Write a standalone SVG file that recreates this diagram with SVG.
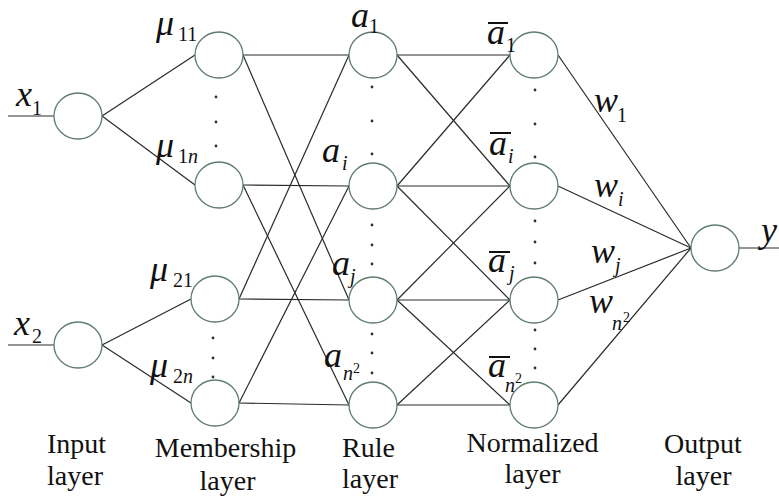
<svg xmlns="http://www.w3.org/2000/svg" width="779" height="497" viewBox="0 0 779 497">
<style>
  .node { fill: #ffffff; stroke: #5f7d6c; stroke-width: 1.3; }
  .edge { stroke: #2a2a2a; stroke-width: 1.2; fill: none; }
  .dot { fill: #24382e; }
  text { font-family: 'Liberation Serif', 'DejaVu Serif', serif; fill: #111; }
  .m { font-style: italic; font-size: 36px; }
  .s { font-style: normal; font-size: 20px; }
  .si { font-style: italic; font-size: 20px; }
  .sup { font-style: normal; font-size: 14px; }
  .bar { stroke: #111; stroke-width: 2; }
  .lab { font-size: 28px; }
</style>
<rect width="779" height="497" fill="#ffffff"/>
<g id="connectors">
  <line class="edge" x1="8" y1="116" x2="54" y2="116"/>
  <line class="edge" x1="8" y1="345" x2="54" y2="345"/>
  <line class="edge" x1="739" y1="248" x2="779" y2="248"/>
  <line class="edge" x1="102" y1="116" x2="195" y2="55"/>
  <line class="edge" x1="102" y1="116" x2="195" y2="185"/>
  <line class="edge" x1="102" y1="345" x2="191" y2="299"/>
  <line class="edge" x1="102" y1="345" x2="191" y2="403"/>
  <line class="edge" x1="243" y1="55" x2="349" y2="55"/>
  <line class="edge" x1="243" y1="55" x2="349" y2="300"/>
  <line class="edge" x1="243" y1="185" x2="349" y2="186"/>
  <line class="edge" x1="243" y1="185" x2="349" y2="405"/>
  <line class="edge" x1="239" y1="299" x2="349" y2="55"/>
  <line class="edge" x1="239" y1="299" x2="349" y2="300"/>
  <line class="edge" x1="239" y1="403" x2="349" y2="186"/>
  <line class="edge" x1="239" y1="403" x2="349" y2="405"/>
  <line class="edge" x1="397" y1="55" x2="510" y2="55"/>
  <line class="edge" x1="397" y1="55" x2="510" y2="186"/>
  <line class="edge" x1="397" y1="186" x2="510" y2="55"/>
  <line class="edge" x1="397" y1="186" x2="510" y2="186"/>
  <line class="edge" x1="397" y1="186" x2="510" y2="300"/>
  <line class="edge" x1="397" y1="300" x2="510" y2="186"/>
  <line class="edge" x1="397" y1="300" x2="510" y2="300"/>
  <line class="edge" x1="397" y1="300" x2="510" y2="405"/>
  <line class="edge" x1="397" y1="405" x2="510" y2="300"/>
  <line class="edge" x1="397" y1="405" x2="510" y2="405"/>
  <line class="edge" x1="558" y1="55" x2="691" y2="248"/>
  <line class="edge" x1="558" y1="186" x2="691" y2="248"/>
  <line class="edge" x1="558" y1="300" x2="691" y2="248"/>
  <line class="edge" x1="558" y1="405" x2="691" y2="248"/>
</g>
<g id="dots">
  <circle class="dot" cx="216" cy="97" r="1.4"/><circle class="dot" cx="216" cy="122" r="1.4"/><circle class="dot" cx="216" cy="146" r="1.4"/>
  <circle class="dot" cx="213" cy="338" r="1.4"/><circle class="dot" cx="213" cy="358" r="1.4"/><circle class="dot" cx="213" cy="377" r="1.4"/>
  <circle class="dot" cx="372" cy="87" r="1.4"/><circle class="dot" cx="372" cy="121" r="1.4"/><circle class="dot" cx="372" cy="154" r="1.4"/>
  <circle class="dot" cx="372" cy="225" r="1.4"/><circle class="dot" cx="372" cy="245" r="1.4"/><circle class="dot" cx="372" cy="264" r="1.4"/>
  <circle class="dot" cx="372" cy="334" r="1.4"/><circle class="dot" cx="372" cy="353" r="1.4"/><circle class="dot" cx="372" cy="373" r="1.4"/>
  <circle class="dot" cx="535" cy="90" r="1.4"/><circle class="dot" cx="535" cy="124" r="1.4"/><circle class="dot" cx="535" cy="157" r="1.4"/>
  <circle class="dot" cx="535" cy="221" r="1.4"/><circle class="dot" cx="535" cy="242" r="1.4"/><circle class="dot" cx="535" cy="263" r="1.4"/>
  <circle class="dot" cx="535" cy="330" r="1.4"/><circle class="dot" cx="535" cy="349" r="1.4"/><circle class="dot" cx="535" cy="368" r="1.4"/>
</g>
<g id="input-x1">
  <ellipse class="node" cx="78" cy="116" rx="24" ry="23"/>
  <text class="m" x="16" y="106">x<tspan class="s" x="32" y="115">1</tspan></text>
</g>
<g id="input-x2">
  <ellipse class="node" cx="78" cy="345" rx="24" ry="23"/>
  <text class="m" x="14" y="335">x<tspan class="s" x="32" y="343">2</tspan></text>
</g>
<g id="mf-11">
  <ellipse class="node" cx="219" cy="55" rx="24" ry="23"/>
  <text class="m" x="156" y="35">μ<tspan class="s" x="178" y="41">11</tspan></text>
</g>
<g id="mf-1n">
  <ellipse class="node" cx="219" cy="185" rx="24" ry="23"/>
  <text class="m" x="156" y="157">μ<tspan class="s" x="178" y="163">1</tspan><tspan class="si">n</tspan></text>
</g>
<g id="mf-21">
  <ellipse class="node" cx="215" cy="299" rx="24" ry="23"/>
  <text class="m" x="150" y="281">μ<tspan class="s" x="173" y="287">21</tspan></text>
</g>
<g id="mf-2n">
  <ellipse class="node" cx="215" cy="403" rx="24" ry="23"/>
  <text class="m" x="150" y="377">μ<tspan class="s" x="173" y="383">2</tspan><tspan class="si">n</tspan></text>
</g>
<g id="rule-1">
  <ellipse class="node" cx="373" cy="55" rx="24" ry="23"/>
  <text class="m" x="351" y="27">a<tspan class="s" x="369" y="33">1</tspan></text>
</g>
<g id="rule-i">
  <ellipse class="node" cx="373" cy="186" rx="24" ry="23"/>
  <text class="m" x="322" y="162">a<tspan class="si" x="342" y="170">i</tspan></text>
</g>
<g id="rule-j">
  <ellipse class="node" cx="373" cy="300" rx="24" ry="23"/>
  <text class="m" x="332" y="275">a<tspan class="si" x="350" y="283">j</tspan></text>
</g>
<g id="rule-n2">
  <ellipse class="node" cx="373" cy="405" rx="24" ry="23"/>
  <text class="m" x="324" y="367">a<tspan class="si" x="343" y="380">n</tspan><tspan class="sup" x="353" y="373">2</tspan></text>
</g>
<g id="norm-1">
  <ellipse class="node" cx="534" cy="55" rx="24" ry="23"/>
  <line class="bar" x1="488" y1="23" x2="508" y2="23"/>
  <text class="m" x="487" y="44">a<tspan class="s" x="506" y="52">1</tspan></text>
</g>
<g id="norm-i">
  <ellipse class="node" cx="534" cy="186" rx="24" ry="23"/>
  <line class="bar" x1="490" y1="133" x2="511" y2="133"/>
  <text class="m" x="489" y="155">a<tspan class="si" x="508" y="163">i</tspan></text>
</g>
<g id="norm-j">
  <ellipse class="node" cx="534" cy="300" rx="24" ry="23"/>
  <line class="bar" x1="489" y1="252" x2="510" y2="252"/>
  <text class="m" x="488" y="272">a<tspan class="si" x="509" y="280">j</tspan></text>
</g>
<g id="norm-n2">
  <ellipse class="node" cx="534" cy="405" rx="24" ry="23"/>
  <line class="bar" x1="489" y1="357" x2="510" y2="357"/>
  <text class="m" x="488" y="377">a<tspan class="si" x="505" y="392">n</tspan><tspan class="sup" x="515" y="383">2</tspan></text>
</g>
<g id="weights">
  <text class="m" x="594" y="112">w<tspan class="s" x="617" y="122">1</tspan></text>
  <text class="m" x="594" y="197">w<tspan class="si" x="618" y="206">i</tspan></text>
  <text class="m" x="591" y="263">w<tspan class="si" x="615" y="272">j</tspan></text>
  <text class="m" x="589" y="313">w<tspan class="si" x="612" y="330">n</tspan><tspan class="sup" x="623" y="322">2</tspan></text>
</g>
<g id="output">
  <ellipse class="node" cx="715" cy="248" rx="24" ry="23"/>
  <text class="m" x="761" y="242">y</text>
</g>
<g id="layer-labels">
  <text class="lab" x="47" y="453">Input</text>
  <text class="lab" x="47" y="485">layer</text>
  <text class="lab" x="225.5" y="457" text-anchor="middle">Membership</text>
  <text class="lab" x="227.5" y="490" text-anchor="middle">layer</text>
  <text class="lab" x="342" y="457">Rule</text>
  <text class="lab" x="342" y="488">layer</text>
  <text class="lab" x="532.5" y="452" text-anchor="middle">Normalized</text>
  <text class="lab" x="532.5" y="483" text-anchor="middle">layer</text>
  <text class="lab" x="703" y="453" text-anchor="middle">Output</text>
  <text class="lab" x="703.5" y="485" text-anchor="middle">layer</text>
</g>
</svg>
